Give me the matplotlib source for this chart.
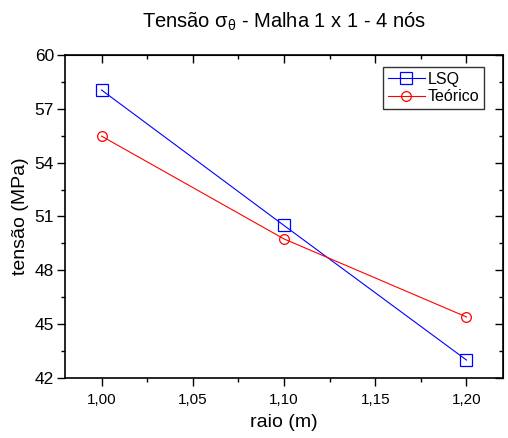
import matplotlib
matplotlib.use("Agg")
from matplotlib import pyplot as plt
from matplotlib.ticker import MultipleLocator, FormatStrFormatter

plt.rcParams['font.family'] = ['Liberation Sans', 'DejaVu Sans']
plt.rcParams['mathtext.fontset'] = 'custom'
plt.rcParams['mathtext.rm'] = 'Liberation Sans'
plt.rcParams['mathtext.it'] = 'Liberation Sans'

# data
raio = [1.00, 1.10, 1.20]
lsq = [58.05, 50.5, 43.0]
teorico = [55.48, 49.75, 45.4]

fig = plt.figure(figsize=(5.08, 4.38), dpi=100)
ax = fig.add_axes([65/508, 1 - 378/438, (503-65)/508, (378-55)/438])

ax.plot(raio, lsq, color='#0000ff', lw=0.8, marker='s', ms=9, mfc='none',
        mec='#0000ff', mew=0.9, label='LSQ')
ax.plot(raio, teorico, color='#ff0000', lw=0.8, marker='o', ms=7, mfc='none',
        mec='#ff0000', mew=0.9, label='Teórico')

ax.set_xlim(0.98, 1.22)
ax.set_ylim(42, 60)
ax.xaxis.set_major_locator(MultipleLocator(0.05))
ax.xaxis.set_minor_locator(MultipleLocator(0.025))
ax.yaxis.set_major_locator(MultipleLocator(3))
ax.yaxis.set_minor_locator(MultipleLocator(1.5))
ax.xaxis.set_major_formatter(lambda v, p: ('%.2f' % v).replace('.', ','))
ax.yaxis.set_major_formatter(FormatStrFormatter('%d'))
ax.tick_params(which='major', direction='out', length=6, width=1)
ax.tick_params(which='minor', direction='out', length=3, width=1)
ax.tick_params(axis='x', labelsize=11, pad=5)
ax.tick_params(axis='y', labelsize=12.5, pad=2)

# inward ticks on top and right
top = ax.secondary_xaxis('top')
top.xaxis.set_major_locator(MultipleLocator(0.05))
top.xaxis.set_minor_locator(MultipleLocator(0.025))
top.tick_params(which='major', direction='in', length=6, width=1, labeltop=False)
top.tick_params(which='minor', direction='in', length=3, width=1)
right = ax.secondary_yaxis('right')
right.yaxis.set_major_locator(MultipleLocator(3))
right.yaxis.set_minor_locator(MultipleLocator(1.5))
right.tick_params(which='major', direction='in', length=6, width=1, labelright=False)
right.tick_params(which='minor', direction='in', length=3, width=1)

for s in ax.spines.values():
    s.set_linewidth(1.2)

ax.set_xlabel('raio (m)', fontsize=14, labelpad=5)
ax.set_ylabel('tensão (MPa)', fontsize=14, labelpad=4)
fig.text(284/508, 1 - 22/438, r'Tensão $\sigma_\theta$ - Malha 1 x 1 - 4 nós',
         ha='center', va='center', fontsize=14.5)

leg = ax.legend(loc='upper right', bbox_to_anchor=(0.957, 0.963), fontsize=11.5,
                frameon=True, fancybox=False, edgecolor='black',
                handlelength=2.3, borderpad=0.3, labelspacing=0.15,
                handletextpad=0.2, borderaxespad=0)
leg.get_frame().set_linewidth(1.0)

fig.savefig('out.png', dpi=100)
